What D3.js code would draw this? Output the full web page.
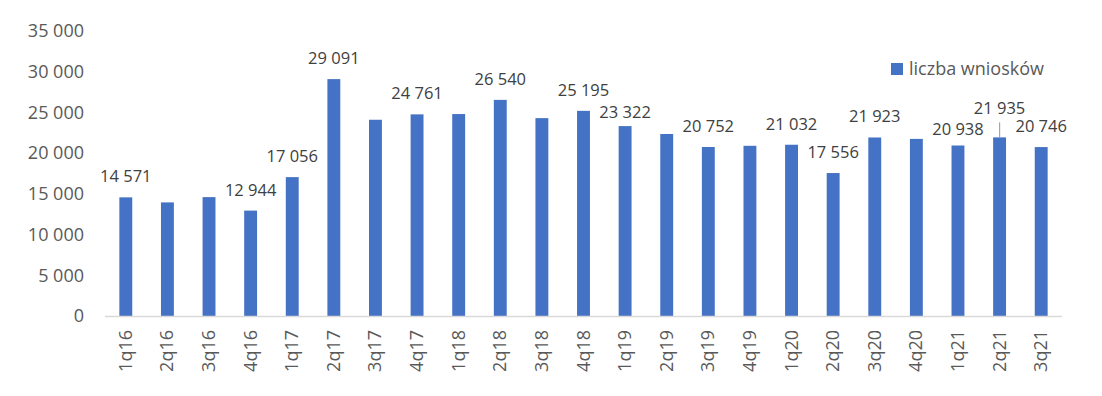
<!DOCTYPE html>
<html>
<head>
<meta charset="utf-8">
<script src="https://cdn.jsdelivr.net/npm/d3@7"></script>
<style>
  body { margin: 0; background: #fff; }
  svg { display: block; font-family: "Open Sans", sans-serif; }
</style>
</head>
<body>
<svg id="chart" width="1102" height="396"></svg>
<script>
// dane
const quarters = ["1q16","2q16","3q16","4q16","1q17","2q17","3q17","4q17","1q18","2q18","3q18","4q18",
                  "1q19","2q19","3q19","4q19","1q20","2q20","3q20","4q20","1q21","2q21","3q21"];
const wnioski  = [14571, 13950, 14600, 12944, 17056, 29091, 24100, 24761, 24800, 26540, 24300, 25195,
                  23322, 22350, 20752, 20900, 21032, 17556, 21923, 21750, 20938, 21935, 20746];
const labelled = ["1q16","4q16","1q17","2q17","4q17","2q18","4q18","1q19","3q19","1q20","2q20","3q20","1q21","2q21","3q21"];
const yTicks   = [0, 5000, 10000, 15000, 20000, 25000, 30000, 35000];
const seriesName = "liczba wniosków";

// układ
const W = 1102, H = 396;
const plot = { left: 105, right: 1062, top: 31, bottom: 316 };
const color = "#4472C4";
const nudge = { "1q19": 7, "1q21": 4, "2q21": -8 };  // przesunięcia etykiet w pionie

const svg = d3.select("#chart");
const fmt = v => d3.format(",")(v).replace(/,/g, " ");

const x = d3.scaleBand().domain(quarters).range([plot.left, plot.right]).paddingInner(0.69).paddingOuter(0.345);
const y = d3.scaleLinear().domain([0, 35000]).range([plot.bottom, plot.top]);

// oś Y
const yAxis = svg.append("g")
  .attr("transform", `translate(${plot.left - 21},0)`)
  .call(d3.axisLeft(y).tickValues(yTicks).tickSize(0).tickPadding(0).tickFormat(fmt));
yAxis.select(".domain").remove();
yAxis.selectAll("text")
  .attr("font-family", "Open Sans").attr("font-size", 18).attr("fill", "#595959");

// słupki
const data = quarters.map((q, i) => ({ q, v: wnioski[i] }));
svg.append("g").selectAll("rect")
  .data(data).join("rect")
  .attr("x", d => x(d.q))
  .attr("width", x.bandwidth())
  .attr("y", d => y(d.v))
  .attr("height", d => y(0) - y(d.v))
  .attr("fill", color);

// oś X
svg.append("line")
  .attr("x1", plot.left).attr("x2", plot.right)
  .attr("y1", plot.bottom + 0.5).attr("y2", plot.bottom + 0.5)
  .attr("stroke", "#D9D9D9").attr("stroke-width", 1.5);

svg.append("g").selectAll("text")
  .data(quarters).join("text")
  .attr("transform", d => `translate(${x(d) + x.bandwidth() / 2 + 6},330) rotate(-90)`)
  .attr("text-anchor", "end")
  .attr("font-size", 18).attr("fill", "#595959")
  .text(d => d);

// etykiety danych
const lab = data.filter(d => labelled.includes(d.q));
svg.append("g").selectAll("text")
  .data(lab).join("text")
  .attr("x", d => x(d.q) + x.bandwidth() / 2)
  .attr("y", d => y(d.v) - 21 + (nudge[d.q] || 0) + 6)
  .attr("text-anchor", "middle")
  .attr("font-size", 16.5).attr("fill", "#404040")
  .text(d => fmt(d.v));

// linia odniesienia dla 2q21
const lead = data.find(d => d.q === "2q21");
svg.append("line")
  .attr("x1", x(lead.q) + x.bandwidth() / 2).attr("x2", x(lead.q) + x.bandwidth() / 2)
  .attr("y1", y(lead.v) - 15).attr("y2", y(lead.v))
  .attr("stroke", "#A6A6A6").attr("stroke-width", 1.2);

// legenda
const leg = svg.append("g").attr("transform", "translate(891,63)");
leg.append("rect").attr("width", 12).attr("height", 12).attr("fill", color);
leg.append("text").attr("x", 18).attr("y", 12)
  .attr("font-size", 18).attr("fill", "#595959")
  .text(seriesName);
</script>
</body>
</html>
